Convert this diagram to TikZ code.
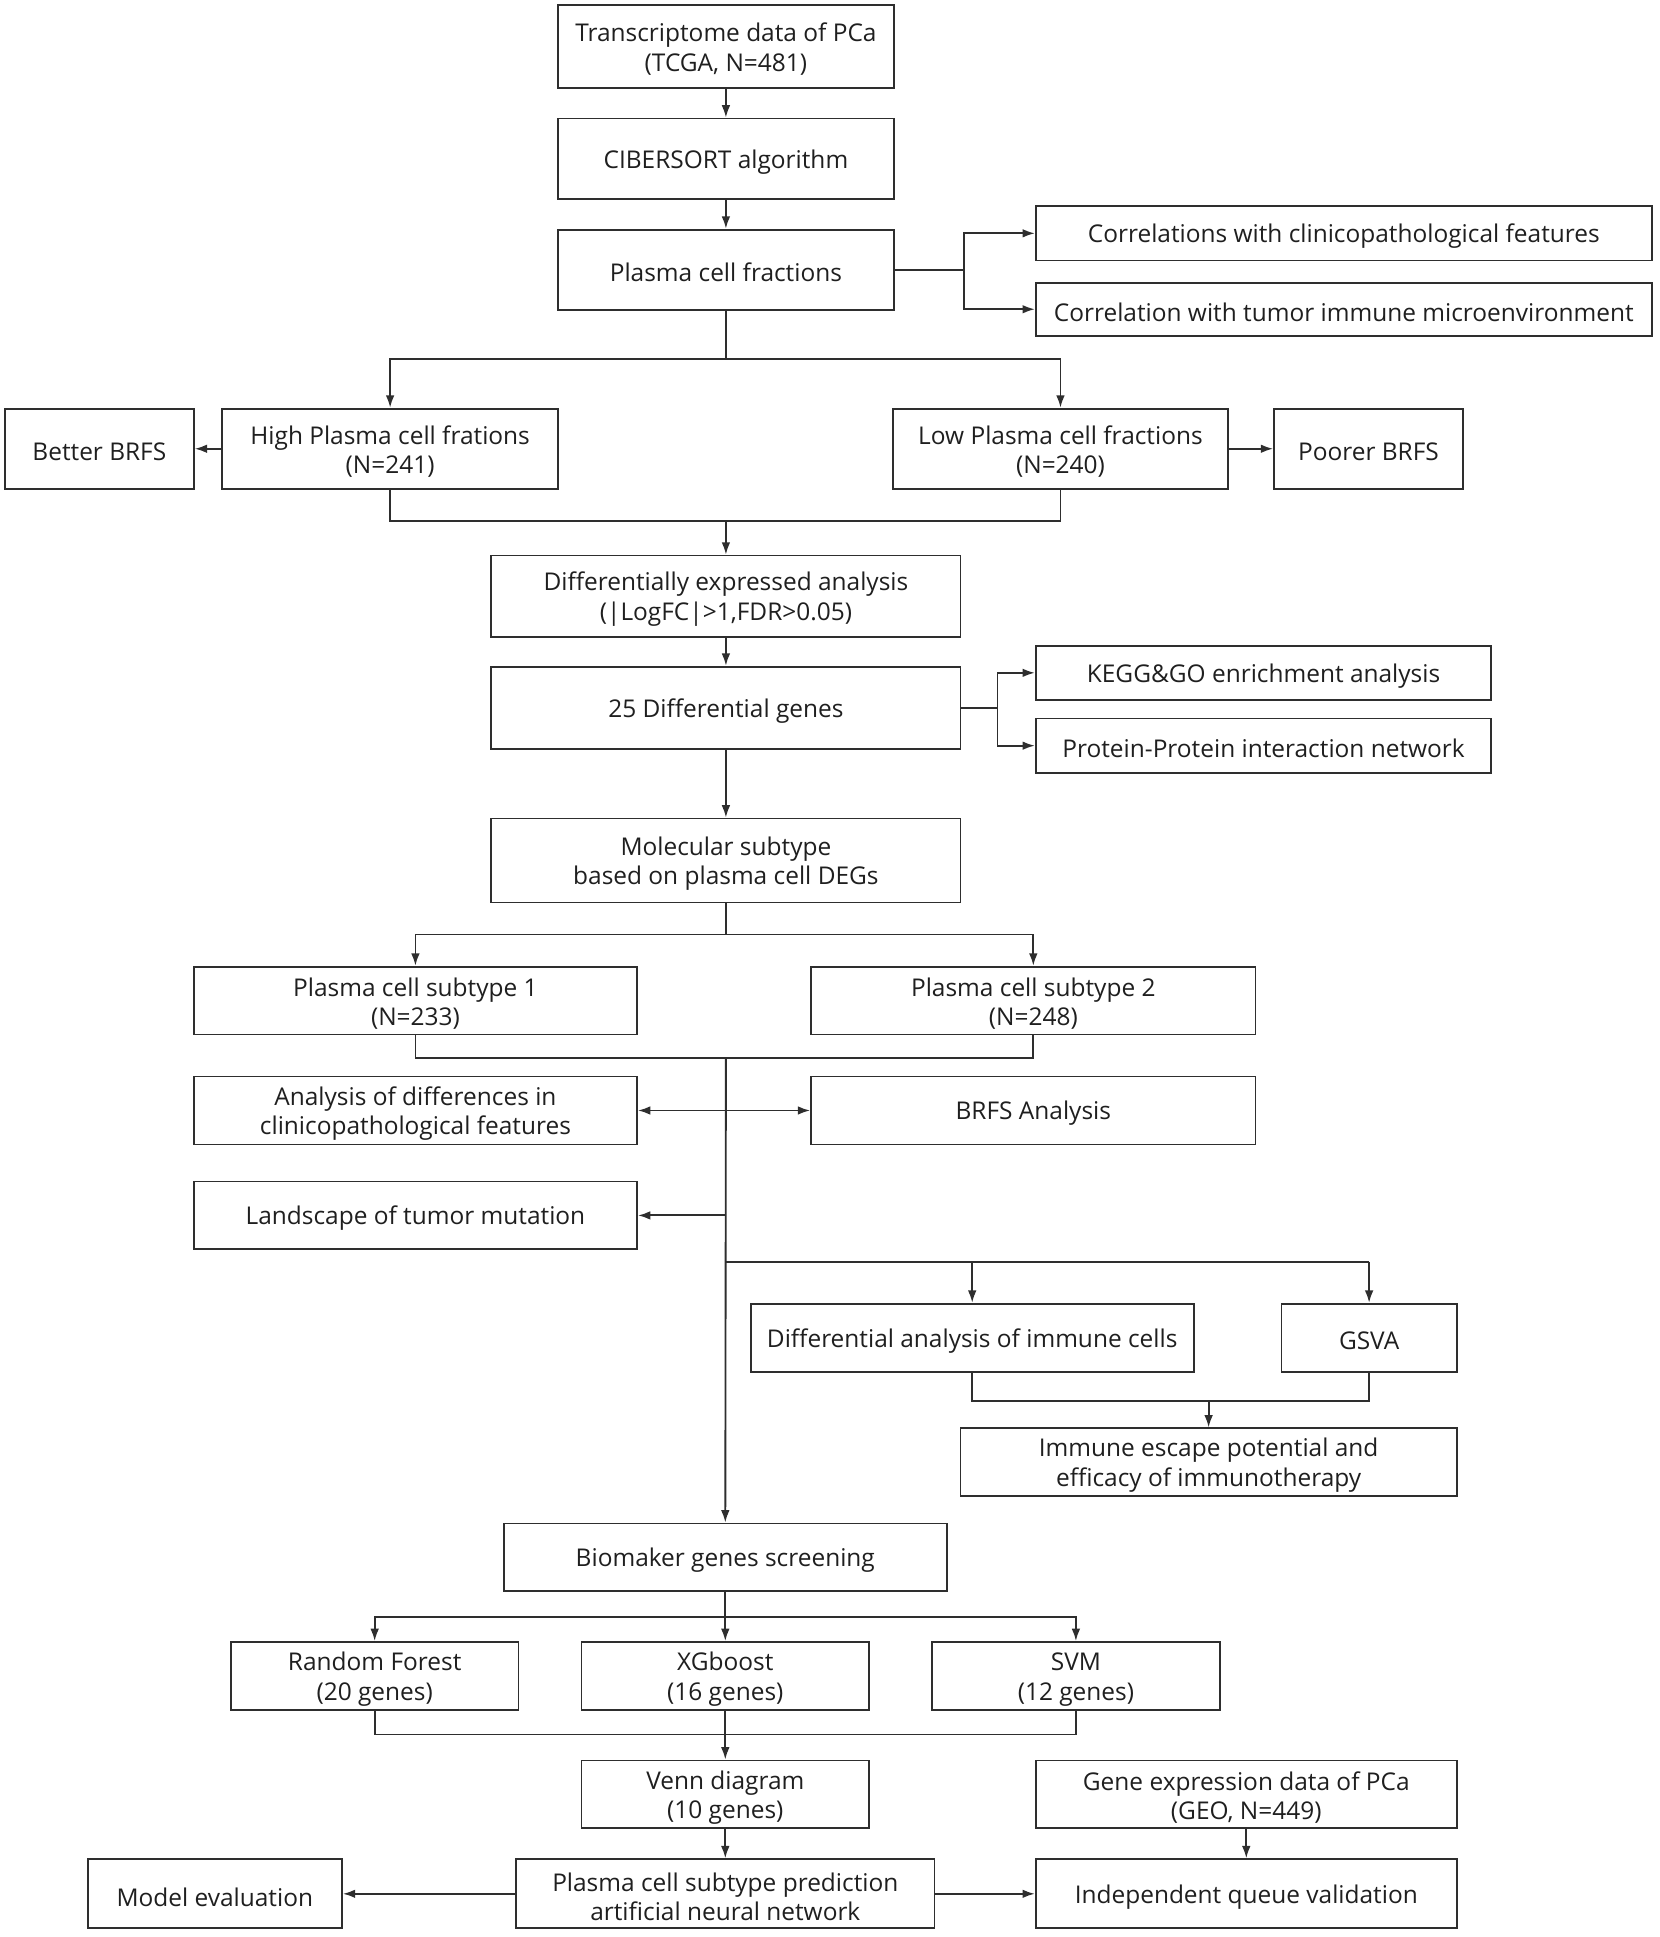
\documentclass[tikz,border=0pt]{standalone}
\usepackage{fontspec}
\setmainfont{Open Sans}
\usetikzlibrary{arrows.meta}
\newcommand\tstrut{\rule{0pt}{20pt}}
\begin{document}
\begin{tikzpicture}[x=1pt,y=-1pt,
 box/.style={draw=black!82, line width=1.5pt, rectangle, inner sep=0pt, align=center,
   font=\fontsize{19.8}{24}\selectfont, text=black!88},
 ln/.style={draw=black!82, line width=1.5pt},
 arr/.style={ln, -{Latex[length=10pt,width=7pt]}},
 darr/.style={ln, {Latex[length=10pt,width=7pt]}-{Latex[length=10pt,width=7pt]}},
]
\useasboundingbox (0,0) rectangle (1344,1569);
% boxes
\node[box, minimum width=272pt, minimum height=67pt] (td) at (588,37.5) {\tstrut Transcriptome data of PCa\\(TCGA, N=481)};
\node[box, minimum width=272pt, minimum height=65pt] (ci) at (588,128.5) {\tstrut CIBERSORT algorithm};
\node[box, minimum width=272pt, minimum height=65pt] (pf) at (588,218.5) {\tstrut Plasma cell fractions};
\node[box, minimum width=499pt, minimum height=44pt] (cc) at (1088.5,189) {\tstrut Correlations with clinicopathological features};
\node[box, minimum width=499pt, minimum height=43pt] (ct) at (1088.5,250.5) {\tstrut Correlation with tumor immune microenvironment};
\node[box, minimum width=272pt, minimum height=65pt] (hi) at (316,363.5) {\tstrut High Plasma cell frations\\(N=241)};
\node[box, minimum width=153pt, minimum height=65pt] (bb) at (80.5,363.5) {\tstrut Better BRFS};
\node[box, minimum width=272pt, minimum height=65pt] (lo) at (859,363.5) {\tstrut Low Plasma cell fractions\\(N=240)};
\node[box, minimum width=153pt, minimum height=65pt] (pb) at (1108.5,363.5) {\tstrut Poorer BRFS};
\node[box, minimum width=380pt, minimum height=66pt] (de) at (588,483) {\tstrut Differentially expressed analysis\\(|LogFC|>1,FDR>0.05)};
\node[box, minimum width=380pt, minimum height=67pt] (dg) at (588,573.5) {\tstrut 25 Differential genes};
\node[box, minimum width=369pt, minimum height=44pt] (kg) at (1023.5,545) {\tstrut KEGG\&GO enrichment analysis};
\node[box, minimum width=369pt, minimum height=44pt] (pp) at (1023.5,604) {\tstrut Protein-Protein interaction network};
\node[box, minimum width=380pt, minimum height=68pt] (ms) at (588,697) {\tstrut Molecular subtype\\based on plasma cell DEGs};
\node[box, minimum width=359pt, minimum height=55pt] (s1) at (336.5,810.5) {\tstrut Plasma cell subtype 1\\(N=233)};
\node[box, minimum width=360pt, minimum height=55pt] (s2) at (837,810.5) {\tstrut Plasma cell subtype 2\\(N=248)};
\node[box, minimum width=359pt, minimum height=55pt] (ad) at (336.5,899.5) {\tstrut Analysis of differences in\\clinicopathological features};
\node[box, minimum width=360pt, minimum height=55pt] (ba) at (837,899.5) {\tstrut BRFS Analysis};
\node[box, minimum width=359pt, minimum height=55pt] (ls) at (336.5,984.5) {\tstrut Landscape of tumor mutation};
\node[box, minimum width=359pt, minimum height=55pt] (di) at (787.5,1083.5) {\tstrut Differential analysis of immune cells};
\node[box, minimum width=142pt, minimum height=55pt] (gs) at (1109,1083.5) {\tstrut GSVA};
\node[box, minimum width=402pt, minimum height=55pt] (ie) at (979,1184.5) {\tstrut Immune escape potential and\\efficacy of immunotherapy};
\node[box, minimum width=359pt, minimum height=55pt] (bm) at (587.5,1261.5) {\tstrut Biomaker genes screening};
\node[box, minimum width=233pt, minimum height=55pt] (rf) at (303.5,1357.5) {\tstrut Random Forest\\(20 genes)};
\node[box, minimum width=233pt, minimum height=55pt] (xg) at (587.5,1357.5) {\tstrut XGboost\\(16 genes)};
\node[box, minimum width=233pt, minimum height=55pt] (sv) at (871.5,1357.5) {\tstrut SVM\\(12 genes)};
\node[box, minimum width=233pt, minimum height=55pt] (vd) at (587.5,1453.5) {\tstrut Venn diagram\\(10 genes)};
\node[box, minimum width=341pt, minimum height=55pt] (ge) at (1009.5,1453.5) {\tstrut Gene expression data of PCa\\(GEO, N=449)};
\node[box, minimum width=339pt, minimum height=56pt] (ann) at (587.5,1534) {\tstrut Plasma cell subtype prediction\\artificial neural network};
\node[box, minimum width=206pt, minimum height=56pt] (me) at (174,1534) {\tstrut Model evaluation};
\node[box, minimum width=341pt, minimum height=56pt] (iq) at (1009.5,1534) {\tstrut Independent queue validation};
% connectors
\draw[arr] (td) -- (ci);
\draw[arr] (ci) -- (pf);
\coordinate (j1) at (781,218.5);
\draw[ln] (pf.east) -- (j1);
\draw[arr] (j1) |- (cc.west);
\draw[arr] (j1) |- (ct.west);
\coordinate (j2) at (588,291);
\draw[ln] (pf.south) -- (j2);
\draw[arr] (j2) -| (hi.north);
\draw[arr] (j2) -| (lo.north);
\draw[arr] (hi.west) -- (bb.east);
\draw[arr] (lo.east) -- (pb.west);
\coordinate (j3) at (588,422);
\draw[ln] (hi.south) |- (j3) -| (lo.south);
\draw[arr] (j3) -- (de.north);
\draw[arr] (de) -- (dg);
\coordinate (j4) at (808,573.5);
\draw[ln] (dg.east) -- (j4);
\draw[arr] (j4) |- (kg.west);
\draw[arr] (j4) |- (pp.west);
\draw[arr] (dg) -- (ms);
\coordinate (j5) at (588,757);
\draw[ln] (ms.south) -- (j5);
\draw[arr] (j5) -| (s1.north);
\draw[arr] (j5) -| (s2.north);
\coordinate (j6) at (588,857);
\draw[ln] (s1.south) |- (j6) -| (s2.south);
\draw[arr] (j6) -- (bm.north);
\draw[darr] (ad.east) -- (ba.west);
\coordinate (j7) at (588,984.5);
\draw[arr] (j7) -- (ls.east);
\coordinate (j8) at (588,1022);
\draw[ln] (j8) -- (1109,1022) coordinate (j9);
\draw[arr] (j8 -| di.north) -- (di.north);
\draw[arr] (j9) -- (gs.north);
\coordinate (j10) at (979,1135);
\draw[ln] (di.south) |- (j10) -| (gs.south);
\draw[arr] (j10) -- (ie.north);
\coordinate (j11) at (587.5,1310);
\draw[ln] (bm.south) -- (j11);
\draw[arr] (j11) -| (rf.north);
\draw[arr] (j11) -- (xg.north);
\draw[arr] (j11) -| (sv.north);
\coordinate (j12) at (587.5,1405);
\draw[ln] (rf.south) |- (j12) -| (sv.south);
\draw[ln] (xg.south) -- (j12);
\draw[arr] (j12) -- (vd.north);
\draw[arr] (vd) -- (ann);
\draw[arr] (ge) -- (iq);
\draw[arr] (ann.west) -- (me.east);
\draw[arr] (ann.east) -- (iq.west);
\end{tikzpicture}
\end{document}
